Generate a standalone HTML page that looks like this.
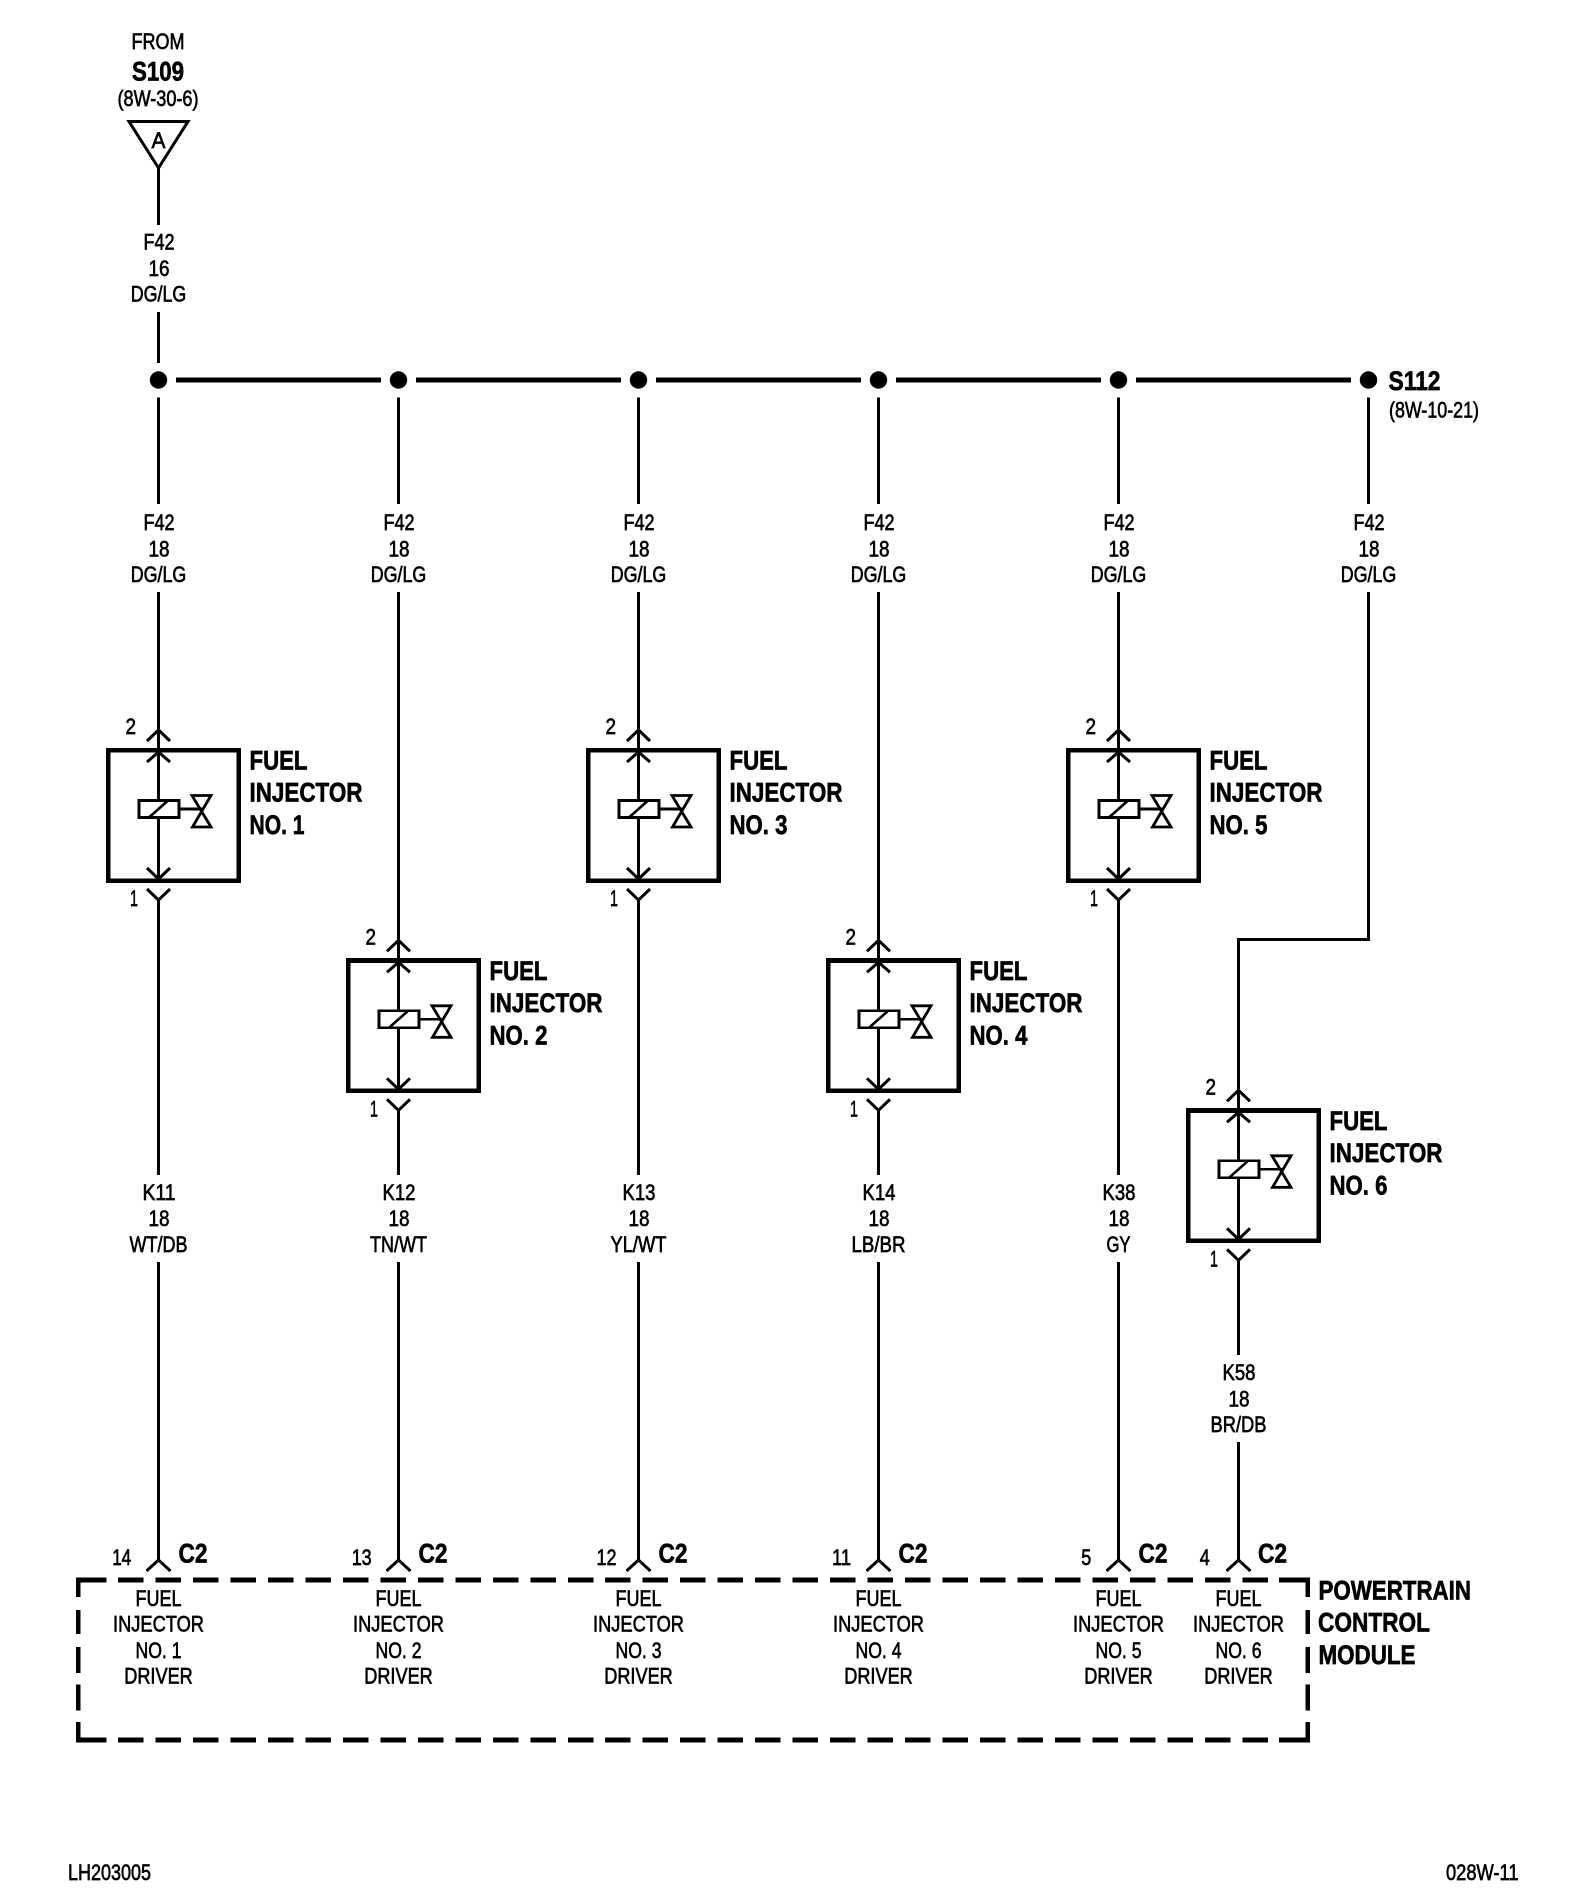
<!DOCTYPE html>
<html>
<head>
<meta charset="utf-8">
<style>
html,body{margin:0;padding:0;background:#fff;width:1584px;height:1898px;overflow:hidden}
svg{display:block}
text{font-family:"Liberation Sans",sans-serif;fill:#000;stroke:#000;stroke-width:.65;font-size:22px}
.b{font-weight:bold;font-size:27px;stroke-width:.65}
.m{text-anchor:middle}
.w{fill:none;stroke:#000;stroke-width:3;shape-rendering:crispEdges}
</style>
</head>
<body>
<svg width="1584" height="1898" viewBox="0 0 1584 1898" xmlns="http://www.w3.org/2000/svg">
<defs>
<g id="inj">
<path class="w" d="M158.5 730V751M158.5 752V880"/>
<rect x="108.2" y="750.2" width="130.4" height="130.4" fill="none" stroke="#000" stroke-width="4.6" shape-rendering="crispEdges"/>
<polyline points="147,741 158.5,730 170,741" fill="none" stroke="#000" stroke-width="3"/>
<polyline points="147,762 158.5,752 170,762" fill="none" stroke="#000" stroke-width="3"/>
<polyline points="147,868 158.5,879 170,868" fill="none" stroke="#000" stroke-width="3"/>
<polyline points="147,889 158.5,900 170,889" fill="none" stroke="#000" stroke-width="3"/>
<rect x="139" y="800.5" width="40" height="17" fill="#fff" stroke="#000" stroke-width="2.8" shape-rendering="crispEdges"/>
<line x1="149.5" y1="817" x2="167.5" y2="801" stroke="#000" stroke-width="2.6"/>
<line x1="180" y1="809" x2="202" y2="809" stroke="#000" stroke-width="2.8" shape-rendering="crispEdges"/>
<path d="M192 795.5H211L192.5 827H211Z" fill="none" stroke="#000" stroke-width="2.8"/>
</g>
<polyline id="chev" points="-12,1571 0,1560 12,1571" fill="none" stroke="#000" stroke-width="3"/>
</defs>
<rect width="1584" height="1898" fill="#fff"/>

<!-- source -->
<text class="m" x="158" y="49" textLength="53" lengthAdjust="spacingAndGlyphs">FROM</text>
<text class="b m" x="158" y="80.5" textLength="52" lengthAdjust="spacingAndGlyphs">S109</text>
<text class="m" x="158" y="106" textLength="81" lengthAdjust="spacingAndGlyphs">(8W-30-6)</text>
<polygon points="129,121.5 188,121.5 158.5,168" fill="none" stroke="#000" stroke-width="3"/>
<text class="m" x="158.5" y="148" textLength="14" lengthAdjust="spacingAndGlyphs">A</text>
<path class="w" d="M158.5 167V225M158.5 312V363"/>
<text class="m" x="159" y="249.5" textLength="31" lengthAdjust="spacingAndGlyphs">F42</text>
<text class="m" x="159" y="276" textLength="21" lengthAdjust="spacingAndGlyphs">16</text>
<text class="m" x="158.5" y="301.5" textLength="55.5" lengthAdjust="spacingAndGlyphs">DG/LG</text>

<!-- bus -->
<g fill="#000">
<circle cx="158.5" cy="380" r="8.7"/><circle cx="398.5" cy="380" r="8.7"/><circle cx="638.5" cy="380" r="8.7"/><circle cx="878.5" cy="380" r="8.7"/><circle cx="1118.5" cy="380" r="8.7"/><circle cx="1368.5" cy="380" r="8.7"/>
</g>
<path d="M176 380H381M416 380H621M656 380H861M896 380H1101M1136 380H1351" fill="none" stroke="#000" stroke-width="5" shape-rendering="crispEdges"/>
<text class="b" x="1388.5" y="390" textLength="52" lengthAdjust="spacingAndGlyphs">S112</text>
<text x="1389" y="417.5" textLength="90" lengthAdjust="spacingAndGlyphs">(8W-10-21)</text>

<!-- wires -->
<path class="w" d="M158.5 397.5V504M158.5 592V730M158.5 900V1175M158.5 1262V1560"/>
<path class="w" d="M398.5 397.5V504M398.5 592V940.5M398.5 1110V1175M398.5 1262V1560"/>
<path class="w" d="M638.5 397.5V504M638.5 592V730M638.5 900V1175M638.5 1262V1560"/>
<path class="w" d="M878.5 397.5V504M878.5 592V940.5M878.5 1110V1175M878.5 1262V1560"/>
<path class="w" d="M1118.5 397.5V504M1118.5 592V730M1118.5 900V1175M1118.5 1262V1560"/>
<path class="w" d="M1368.5 397.5V504M1368.5 592V939.5H1238.5V1090M1238.5 1260V1355M1238.5 1442V1560"/>

<!-- F42 labels -->
<text class="m" x="159" y="530" textLength="31" lengthAdjust="spacingAndGlyphs">F42</text><text class="m" x="159" y="556.5" textLength="21" lengthAdjust="spacingAndGlyphs">18</text><text class="m" x="158.5" y="582" textLength="55.5" lengthAdjust="spacingAndGlyphs">DG/LG</text>
<text class="m" x="399" y="530" textLength="31" lengthAdjust="spacingAndGlyphs">F42</text><text class="m" x="399" y="556.5" textLength="21" lengthAdjust="spacingAndGlyphs">18</text><text class="m" x="398.5" y="582" textLength="55.5" lengthAdjust="spacingAndGlyphs">DG/LG</text>
<text class="m" x="639" y="530" textLength="31" lengthAdjust="spacingAndGlyphs">F42</text><text class="m" x="639" y="556.5" textLength="21" lengthAdjust="spacingAndGlyphs">18</text><text class="m" x="638.5" y="582" textLength="55.5" lengthAdjust="spacingAndGlyphs">DG/LG</text>
<text class="m" x="879" y="530" textLength="31" lengthAdjust="spacingAndGlyphs">F42</text><text class="m" x="879" y="556.5" textLength="21" lengthAdjust="spacingAndGlyphs">18</text><text class="m" x="878.5" y="582" textLength="55.5" lengthAdjust="spacingAndGlyphs">DG/LG</text>
<text class="m" x="1119" y="530" textLength="31" lengthAdjust="spacingAndGlyphs">F42</text><text class="m" x="1119" y="556.5" textLength="21" lengthAdjust="spacingAndGlyphs">18</text><text class="m" x="1118.5" y="582" textLength="55.5" lengthAdjust="spacingAndGlyphs">DG/LG</text>
<text class="m" x="1369" y="530" textLength="31" lengthAdjust="spacingAndGlyphs">F42</text><text class="m" x="1369" y="556.5" textLength="21" lengthAdjust="spacingAndGlyphs">18</text><text class="m" x="1368.5" y="582" textLength="55.5" lengthAdjust="spacingAndGlyphs">DG/LG</text>

<!-- injectors -->
<use href="#inj" transform="translate(0,0)"/>
<use href="#inj" transform="translate(240,210.3)"/>
<use href="#inj" transform="translate(480,0)"/>
<use href="#inj" transform="translate(720,210.3)"/>
<use href="#inj" transform="translate(960,0)"/>
<use href="#inj" transform="translate(1080,360.3)"/>

<text x="125.5" y="734" textLength="10.5" lengthAdjust="spacingAndGlyphs">2</text><text x="130" y="906" textLength="8" lengthAdjust="spacingAndGlyphs">1</text>
<text class="b" x="249.5" y="769.5" textLength="58" lengthAdjust="spacingAndGlyphs">FUEL</text><text class="b" x="249.5" y="801.5" textLength="113" lengthAdjust="spacingAndGlyphs">INJECTOR</text><text class="b" x="249.5" y="834" textLength="55" lengthAdjust="spacingAndGlyphs">NO. 1</text>

<text x="365.5" y="944.3" textLength="10.5" lengthAdjust="spacingAndGlyphs">2</text><text x="370" y="1116.3" textLength="8" lengthAdjust="spacingAndGlyphs">1</text>
<text class="b" x="489.5" y="979.8" textLength="58" lengthAdjust="spacingAndGlyphs">FUEL</text><text class="b" x="489.5" y="1011.8" textLength="113" lengthAdjust="spacingAndGlyphs">INJECTOR</text><text class="b" x="489.5" y="1044.3" textLength="58" lengthAdjust="spacingAndGlyphs">NO. 2</text>

<text x="605.5" y="734" textLength="10.5" lengthAdjust="spacingAndGlyphs">2</text><text x="610" y="906" textLength="8" lengthAdjust="spacingAndGlyphs">1</text>
<text class="b" x="729.5" y="769.5" textLength="58" lengthAdjust="spacingAndGlyphs">FUEL</text><text class="b" x="729.5" y="801.5" textLength="113" lengthAdjust="spacingAndGlyphs">INJECTOR</text><text class="b" x="729.5" y="834" textLength="58" lengthAdjust="spacingAndGlyphs">NO. 3</text>

<text x="845.5" y="944.3" textLength="10.5" lengthAdjust="spacingAndGlyphs">2</text><text x="850" y="1116.3" textLength="8" lengthAdjust="spacingAndGlyphs">1</text>
<text class="b" x="969.5" y="979.8" textLength="58" lengthAdjust="spacingAndGlyphs">FUEL</text><text class="b" x="969.5" y="1011.8" textLength="113" lengthAdjust="spacingAndGlyphs">INJECTOR</text><text class="b" x="969.5" y="1044.3" textLength="58" lengthAdjust="spacingAndGlyphs">NO. 4</text>

<text x="1085.5" y="734" textLength="10.5" lengthAdjust="spacingAndGlyphs">2</text><text x="1090" y="906" textLength="8" lengthAdjust="spacingAndGlyphs">1</text>
<text class="b" x="1209.5" y="769.5" textLength="58" lengthAdjust="spacingAndGlyphs">FUEL</text><text class="b" x="1209.5" y="801.5" textLength="113" lengthAdjust="spacingAndGlyphs">INJECTOR</text><text class="b" x="1209.5" y="834" textLength="58" lengthAdjust="spacingAndGlyphs">NO. 5</text>

<text x="1205.5" y="1094.3" textLength="10.5" lengthAdjust="spacingAndGlyphs">2</text><text x="1210" y="1266.3" textLength="8" lengthAdjust="spacingAndGlyphs">1</text>
<text class="b" x="1329.5" y="1129.8" textLength="58" lengthAdjust="spacingAndGlyphs">FUEL</text><text class="b" x="1329.5" y="1161.8" textLength="113" lengthAdjust="spacingAndGlyphs">INJECTOR</text><text class="b" x="1329.5" y="1194.3" textLength="58" lengthAdjust="spacingAndGlyphs">NO. 6</text>

<!-- K labels -->
<text class="m" x="159" y="1200" textLength="33" lengthAdjust="spacingAndGlyphs">K11</text><text class="m" x="159" y="1226" textLength="21" lengthAdjust="spacingAndGlyphs">18</text><text class="m" x="158.5" y="1252" textLength="58" lengthAdjust="spacingAndGlyphs">WT/DB</text>
<text class="m" x="399" y="1200" textLength="33" lengthAdjust="spacingAndGlyphs">K12</text><text class="m" x="399" y="1226" textLength="21" lengthAdjust="spacingAndGlyphs">18</text><text class="m" x="398.5" y="1252" textLength="57" lengthAdjust="spacingAndGlyphs">TN/WT</text>
<text class="m" x="639" y="1200" textLength="33" lengthAdjust="spacingAndGlyphs">K13</text><text class="m" x="639" y="1226" textLength="21" lengthAdjust="spacingAndGlyphs">18</text><text class="m" x="638.5" y="1252" textLength="56" lengthAdjust="spacingAndGlyphs">YL/WT</text>
<text class="m" x="879" y="1200" textLength="33" lengthAdjust="spacingAndGlyphs">K14</text><text class="m" x="879" y="1226" textLength="21" lengthAdjust="spacingAndGlyphs">18</text><text class="m" x="878.5" y="1252" textLength="54" lengthAdjust="spacingAndGlyphs">LB/BR</text>
<text class="m" x="1119" y="1200" textLength="33" lengthAdjust="spacingAndGlyphs">K38</text><text class="m" x="1119" y="1226" textLength="21" lengthAdjust="spacingAndGlyphs">18</text><text class="m" x="1118.5" y="1252" textLength="24" lengthAdjust="spacingAndGlyphs">GY</text>
<text class="m" x="1239" y="1380" textLength="33" lengthAdjust="spacingAndGlyphs">K58</text><text class="m" x="1239" y="1406.5" textLength="21" lengthAdjust="spacingAndGlyphs">18</text><text class="m" x="1238.5" y="1432" textLength="56" lengthAdjust="spacingAndGlyphs">BR/DB</text>

<!-- C2 connectors -->
<use href="#chev" x="158.5"/><use href="#chev" x="398.5"/><use href="#chev" x="638.5"/><use href="#chev" x="878.5"/><use href="#chev" x="1118.5"/><use href="#chev" x="1238.5"/>
<text class="m" x="121.7" y="1565" textLength="19" lengthAdjust="spacingAndGlyphs">14</text><text class="b" x="178.5" y="1562.5" textLength="29" lengthAdjust="spacingAndGlyphs">C2</text>
<text class="m" x="361.7" y="1565" textLength="20" lengthAdjust="spacingAndGlyphs">13</text><text class="b" x="418.5" y="1562.5" textLength="29" lengthAdjust="spacingAndGlyphs">C2</text>
<text class="m" x="606.5" y="1565" textLength="20" lengthAdjust="spacingAndGlyphs">12</text><text class="b" x="658.5" y="1562.5" textLength="29" lengthAdjust="spacingAndGlyphs">C2</text>
<text class="m" x="841.5" y="1565" textLength="19" lengthAdjust="spacingAndGlyphs">11</text><text class="b" x="898.5" y="1562.5" textLength="29" lengthAdjust="spacingAndGlyphs">C2</text>
<text class="m" x="1086.3" y="1565" textLength="10" lengthAdjust="spacingAndGlyphs">5</text><text class="b" x="1138.5" y="1562.5" textLength="29" lengthAdjust="spacingAndGlyphs">C2</text>
<text class="m" x="1204.8" y="1565" textLength="10" lengthAdjust="spacingAndGlyphs">4</text><text class="b" x="1258" y="1562.5" textLength="29" lengthAdjust="spacingAndGlyphs">C2</text>

<!-- PCM dashed box -->
<g fill="none" stroke="#000" stroke-width="4.7" shape-rendering="crispEdges">
<path d="M106.7 1580H78.3V1597M78.3 1722V1740H106.7M1279 1580H1307.7V1597M1307.7 1722V1740H1279"/>
<path d="M78.3 1610V1634M78.3 1647V1673M78.3 1684.5V1710.5M1307.7 1610V1634M1307.7 1647V1673M1307.7 1684.5V1710.5"/>
<path d="M118 1580H1268M118 1740H1268" stroke-dasharray="25.5 11.98"/>
</g>

<!-- drivers -->
<text class="m" x="158.5" y="1606" textLength="46" lengthAdjust="spacingAndGlyphs">FUEL</text><text class="m" x="158.5" y="1631.5" textLength="91" lengthAdjust="spacingAndGlyphs">INJECTOR</text><text class="m" x="158.5" y="1658" textLength="46" lengthAdjust="spacingAndGlyphs">NO. 1</text><text class="m" x="158.5" y="1683.5" textLength="68.5" lengthAdjust="spacingAndGlyphs">DRIVER</text>
<text class="m" x="398.5" y="1606" textLength="46" lengthAdjust="spacingAndGlyphs">FUEL</text><text class="m" x="398.5" y="1631.5" textLength="91" lengthAdjust="spacingAndGlyphs">INJECTOR</text><text class="m" x="398.5" y="1658" textLength="46" lengthAdjust="spacingAndGlyphs">NO. 2</text><text class="m" x="398.5" y="1683.5" textLength="68.5" lengthAdjust="spacingAndGlyphs">DRIVER</text>
<text class="m" x="638.5" y="1606" textLength="46" lengthAdjust="spacingAndGlyphs">FUEL</text><text class="m" x="638.5" y="1631.5" textLength="91" lengthAdjust="spacingAndGlyphs">INJECTOR</text><text class="m" x="638.5" y="1658" textLength="46" lengthAdjust="spacingAndGlyphs">NO. 3</text><text class="m" x="638.5" y="1683.5" textLength="68.5" lengthAdjust="spacingAndGlyphs">DRIVER</text>
<text class="m" x="878.5" y="1606" textLength="46" lengthAdjust="spacingAndGlyphs">FUEL</text><text class="m" x="878.5" y="1631.5" textLength="91" lengthAdjust="spacingAndGlyphs">INJECTOR</text><text class="m" x="878.5" y="1658" textLength="46" lengthAdjust="spacingAndGlyphs">NO. 4</text><text class="m" x="878.5" y="1683.5" textLength="68.5" lengthAdjust="spacingAndGlyphs">DRIVER</text>
<text class="m" x="1118.5" y="1606" textLength="46" lengthAdjust="spacingAndGlyphs">FUEL</text><text class="m" x="1118.5" y="1631.5" textLength="91" lengthAdjust="spacingAndGlyphs">INJECTOR</text><text class="m" x="1118.5" y="1658" textLength="46" lengthAdjust="spacingAndGlyphs">NO. 5</text><text class="m" x="1118.5" y="1683.5" textLength="68.5" lengthAdjust="spacingAndGlyphs">DRIVER</text>
<text class="m" x="1238.5" y="1606" textLength="46" lengthAdjust="spacingAndGlyphs">FUEL</text><text class="m" x="1238.5" y="1631.5" textLength="91" lengthAdjust="spacingAndGlyphs">INJECTOR</text><text class="m" x="1238.5" y="1658" textLength="46" lengthAdjust="spacingAndGlyphs">NO. 6</text><text class="m" x="1238.5" y="1683.5" textLength="68.5" lengthAdjust="spacingAndGlyphs">DRIVER</text>

<text class="b" x="1318.5" y="1599.5" textLength="152.5" lengthAdjust="spacingAndGlyphs">POWERTRAIN</text>
<text class="b" x="1318" y="1631.5" textLength="112" lengthAdjust="spacingAndGlyphs">CONTROL</text>
<text class="b" x="1318.5" y="1664" textLength="97" lengthAdjust="spacingAndGlyphs">MODULE</text>

<text x="68" y="1880" textLength="83" lengthAdjust="spacingAndGlyphs">LH203005</text>
<text x="1446" y="1880" textLength="72.5" lengthAdjust="spacingAndGlyphs">028W-11</text>
</svg>
</body>
</html>
